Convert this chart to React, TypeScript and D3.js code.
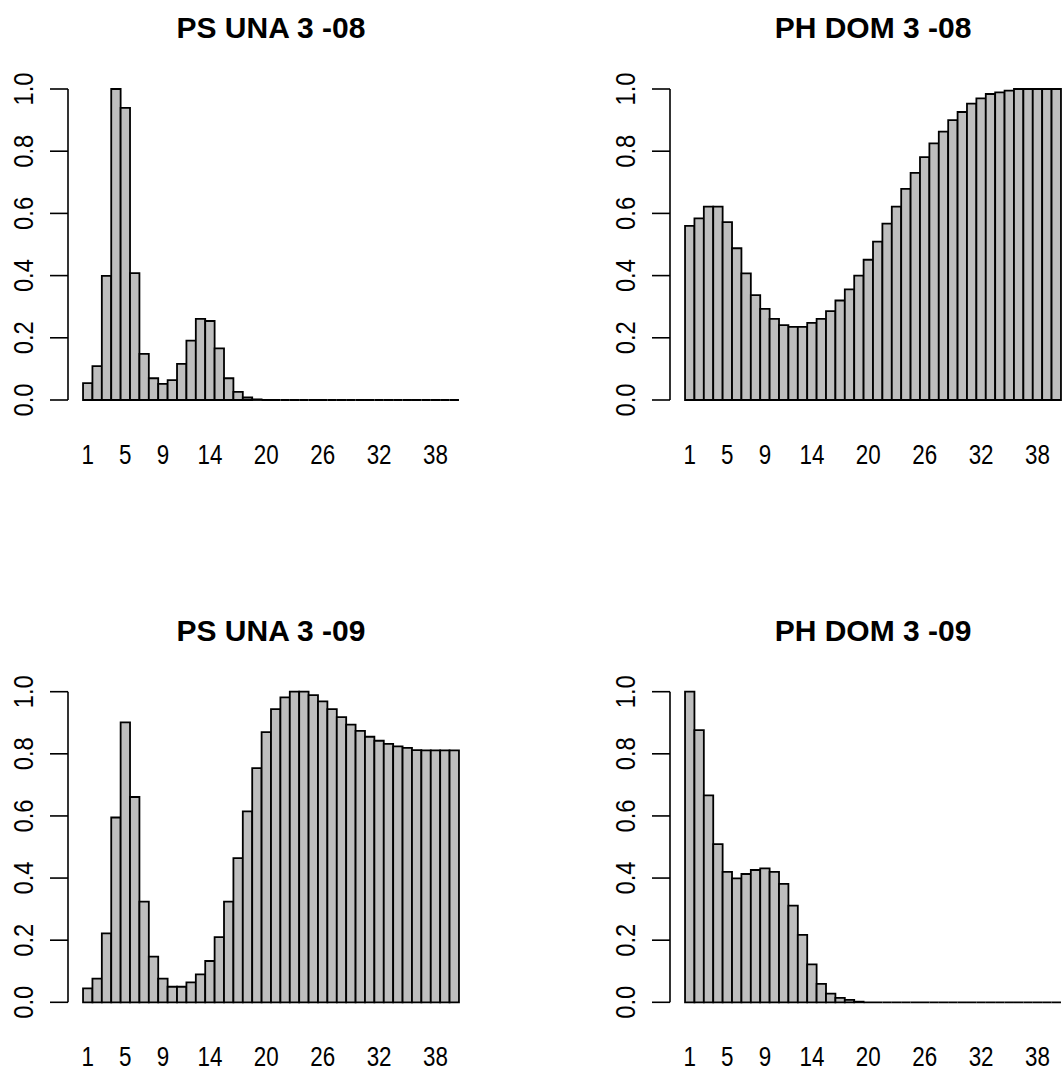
import React from "react";
import * as d3 from "d3";

const titles = ["PS UNA 3 -08", "PH DOM 3 -08", "PS UNA 3 -09", "PH DOM 3 -09"];

const categories = d3.range(1, 41);

const psUna08 = [0.054, 0.109, 0.399, 1.0, 0.939, 0.408, 0.148, 0.07, 0.052, 0.064,
  0.116, 0.191, 0.261, 0.254, 0.166, 0.07, 0.026, 0.008, 0.002, 0,
  0, 0, 0, 0, 0, 0, 0, 0, 0, 0,
  0, 0, 0, 0, 0, 0, 0, 0, 0, 0];

const phDom08 = [0.56, 0.584, 0.622, 0.622, 0.572, 0.488, 0.407, 0.337, 0.293, 0.261,
  0.241, 0.235, 0.235, 0.248, 0.261, 0.286, 0.32, 0.356, 0.4, 0.451,
  0.509, 0.567, 0.622, 0.679, 0.73, 0.781, 0.825, 0.863, 0.9, 0.926,
  0.953, 0.97, 0.984, 0.989, 0.995, 1.0, 1.0, 1.0, 1.0, 1.0];

const psUna09 = [0.045, 0.076, 0.222, 0.595, 0.901, 0.661, 0.324, 0.147, 0.076, 0.05,
  0.05, 0.064, 0.09, 0.133, 0.21, 0.324, 0.464, 0.615, 0.754, 0.87,
  0.944, 0.982, 1.0, 1.0, 0.989, 0.969, 0.944, 0.918, 0.894, 0.874,
  0.855, 0.842, 0.832, 0.824, 0.819, 0.812, 0.811, 0.811, 0.811, 0.811];

const phDom09 = [1.0, 0.876, 0.666, 0.509, 0.42, 0.399, 0.413, 0.426, 0.431, 0.42,
  0.381, 0.311, 0.217, 0.122, 0.059, 0.028, 0.014, 0.008, 0.002, 0,
  0, 0, 0, 0, 0, 0, 0, 0, 0, 0,
  0, 0, 0, 0, 0, 0, 0, 0, 0, 0];

const seriesList = [psUna08, phDom08, psUna09, phDom09];

const xTickLabels = [1, 5, 9, 14, 20, 26, 32, 38];
const yTicks = [0, 0.2, 0.4, 0.6, 0.8, 1.0];

const W = 1063;
const H = 1072;
const FONT = "'Liberation Sans', Arial, sans-serif";

// panel geometry: axis x, y of value 1, y of value 0
const panels = [
  { ax: 68, y1: 89, y0: 400 },
  { ax: 670, y1: 89, y0: 400 },
  { ax: 68, y1: 691.7, y0: 1002.3 },
  { ax: 670, y1: 691.7, y0: 1002.3 },
];
const plotW = 406;

function Panel({ idx }: { idx: number }) {
  const p = panels[idx];
  const values = seriesList[idx];
  const x = d3.scaleLinear().domain([-1.6, 41.6]).range([p.ax, p.ax + plotW]);
  const y = d3.scaleLinear().domain([0, 1]).range([p.y0, p.y1]);
  const labelX = p.ax - 45;
  return (
    <g>
      <text
        x={p.ax + plotW / 2}
        y={p.y1 - 51}
        textAnchor="middle"
        fontFamily={FONT}
        fontWeight="bold"
        fontSize={30}
        fill="#000"
      >
        {titles[idx]}
      </text>
      {values.map((v, i) => {
        const x0 = x(i);
        const x1 = x(i + 1);
        const yt = y(v);
        const yb = y(0);
        return (
          <path
            key={i}
            d={`M${x0},${yb}L${x0},${yt}L${x1},${yt}L${x1},${yb}Z`}
            fill="#bebebe"
            stroke="#000"
            strokeWidth={1.8}
          />
        );
      })}
      <line x1={p.ax} x2={p.ax} y1={y(0)} y2={y(1)} stroke="#000" strokeWidth={1.6} />
      {yTicks.map((t) => (
        <g key={t}>
          <line x1={p.ax - 18} x2={p.ax} y1={y(t)} y2={y(t)} stroke="#000" strokeWidth={1.6} />
          <text
            transform={`translate(${labelX},${y(t)}) rotate(-90) scale(0.88,1)`}
            textAnchor="middle"
            dominantBaseline="central"
            fontFamily={FONT}
            fontSize={27}
            fill="#000"
          >
            {t.toFixed(1)}
          </text>
        </g>
      ))}
      {xTickLabels.map((c) => (
        <text
          key={c}
          transform={`translate(${x(categories[c - 1] - 0.5)},${p.y0 + 64}) scale(0.8,1)`}
          textAnchor="middle"
          fontFamily={FONT}
          fontSize={28}
          fill="#000"
        >
          {c}
        </text>
      ))}
    </g>
  );
}

export default function App() {
  return (
    <svg
      width={W}
      height={H}
      style={{ display: "block", background: "#fff", position: "absolute", left: 0, top: 0 }}
    >
      {[0, 1, 2, 3].map((i) => (
        <Panel key={i} idx={i} />
      ))}
    </svg>
  );
}
